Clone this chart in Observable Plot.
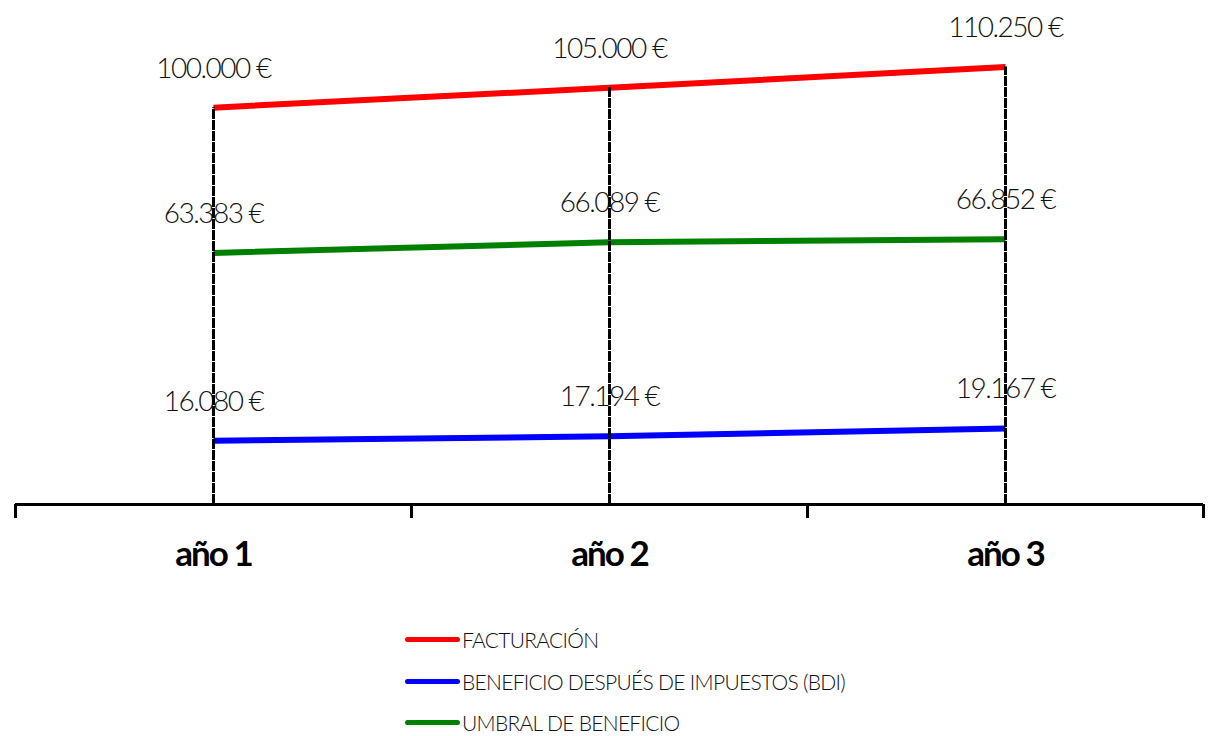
<!DOCTYPE html>
<html>
<head>
<meta charset="utf-8">
<script src="https://cdn.jsdelivr.net/npm/d3@7"></script>
<script src="https://cdn.jsdelivr.net/npm/@observablehq/plot@0.6"></script>
<style>
  body { margin: 0; background: #fff; font-family: Lato, "DejaVu Sans", sans-serif; overflow: hidden; }
  #legend { position: relative; width: 1209px; padding-top: 9px; }
  .row { height: 41.5px; display: flex; align-items: center; padding-left: 405px; }
  .sw { width: 55px; height: 5px; border-radius: 3px; margin-right: 2px; }
  .lab { font-size: 21px; line-height: 21px; font-weight: 300; letter-spacing: -0.7px; color: #111; }
</style>
</head>
<body>
<div id="chart"></div>
<div id="legend"></div>
<script>
const categories = ["año 1", "año 2", "año 3"];
const years = [1, 2, 3];
const facturacion = [100000, 105000, 110250];
const bdi = [16080, 17194, 19167];
const umbral = [63383, 66089, 66852];
const seriesNames = ["FACTURACIÓN", "BENEFICIO DESPUÉS DE IMPUESTOS (BDI)", "UMBRAL DE BENEFICIO"];
const seriesColors = ["#ff0000", "#0000ff", "#008000"];
const boundaries = [0.5, 1.5, 2.5, 3.5];

const seriesValues = [facturacion, bdi, umbral];
const rows = [];
seriesValues.forEach((vals, s) => vals.forEach((v, i) => rows.push({series: seriesNames[s], year: years[i], value: v})));
const fmt = v => v.toLocaleString("de-DE") + " €";

const chart = Plot.plot({
  width: 1209,
  height: 610,
  marginTop: 0,
  marginBottom: 106,
  marginLeft: 15,
  marginRight: 6,
  style: {fontFamily: "Lato, 'DejaVu Sans', sans-serif", background: "#fff"},
  x: {type: "linear", domain: [0.5, 3.5], axis: null, label: null},
  y: {type: "linear", domain: [0, 127000], axis: null, label: null},
  color: {domain: seriesNames, range: seriesColors},
  marks: [
    Plot.line(rows, {x: "year", y: "value", z: "series", stroke: "series", strokeWidth: 6, strokeLinecap: "butt"}),
    Plot.text(rows, {x: "year", y: "value", text: d => fmt(d.value), dy: -39, dx: 0, fontSize: 28, fontWeight: 300, fill: "#111"}),
    Plot.ruleX(years, {x: d => d, y1: () => 0, y2: (d, i) => facturacion[i], stroke: "#000", strokeWidth: 3, strokeDasharray: "10,1"}),
    Plot.ruleY([0], {stroke: "#000", strokeWidth: 3}),
    Plot.axisX({ticks: boundaries, tickSize: 14, tickFormat: () => "", label: null, stroke: "#000", strokeWidth: 3}),
    Plot.text(years, {x: d => d, y: () => 0, text: (d, i) => categories[i], dy: 50, fontSize: 35, fontWeight: "bold", fill: "#000"})
  ]
});
chart.querySelectorAll("g[font-size='28'] text, text[font-size='28']").forEach(t => t.setAttribute("letter-spacing", "-1.5"));
chart.querySelectorAll("g[font-size='35'] text, text[font-size='35']").forEach(t => t.setAttribute("letter-spacing", "-2"));
document.getElementById("chart").appendChild(chart);

const legend = document.getElementById("legend");
seriesNames.forEach((name, i) => {
  const r = document.createElement("div");
  r.className = "row";
  const sw = document.createElement("div");
  sw.className = "sw";
  sw.style.background = seriesColors[i];
  const lab = document.createElement("span");
  lab.className = "lab";
  lab.textContent = name;
  r.appendChild(sw); r.appendChild(lab);
  legend.appendChild(r);
});
</script>
</body>
</html>
